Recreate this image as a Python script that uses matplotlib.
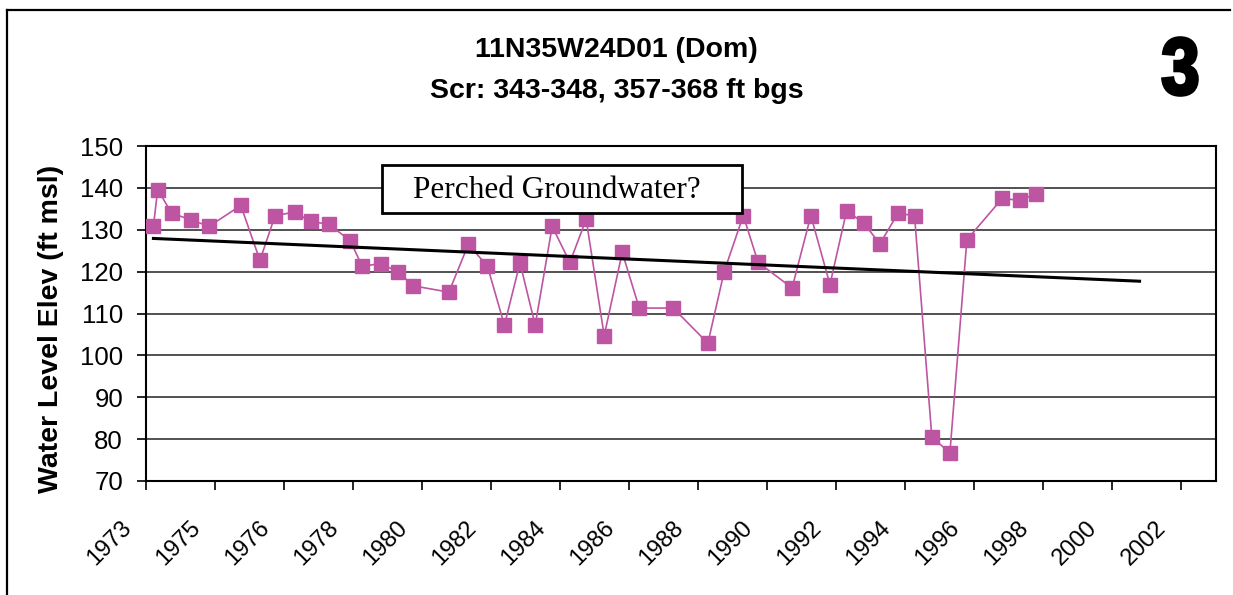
import numpy as np
import matplotlib
matplotlib.use("Agg")
import matplotlib.pyplot as plt
from matplotlib.lines import Line2D
from matplotlib.patches import Rectangle, PathPatch
from matplotlib.textpath import TextPath
from matplotlib.font_manager import FontProperties
from matplotlib.transforms import Affine2D, ScaledTranslation

# Measurement dates (decimal years) and water level elevations (ft msl)
years = [1973.28, 1973.40, 1973.80, 1974.34, 1974.85, 1975.75, 1976.29, 1976.72,
         1977.27, 1977.72, 1978.24, 1978.84, 1979.18, 1979.71, 1980.20, 1980.63,
         1981.63, 1982.18, 1982.72, 1983.20, 1983.64, 1984.07, 1984.55, 1985.05,
         1985.51, 1986.02, 1986.53, 1987.01, 1987.97, 1988.95, 1989.41, 1989.95,
         1990.37, 1991.33, 1991.86, 1992.40, 1992.87, 1993.36, 1993.81, 1994.32,
         1994.79, 1995.28, 1995.79, 1996.27, 1997.27, 1997.76, 1998.22]
levels = [130.8, 139.6, 133.9, 132.4, 130.8, 135.8, 122.7, 133.4,
          134.2, 132.0, 131.3, 127.4, 121.3, 121.9, 119.9, 116.6,
          115.1, 126.5, 121.3, 107.2, 122.1, 107.2, 130.8, 122.2,
          132.5, 104.7, 124.6, 111.3, 111.3, 102.9, 120.0, 133.4,
          122.2, 116.1, 133.4, 116.9, 134.5, 131.6, 126.6, 133.9,
          133.4, 80.5, 76.7, 127.6, 137.5, 137.0, 138.6]

tick_labels = ["1973", "1975", "1976", "1978", "1980", "1982", "1984", "1986",
               "1988", "1990", "1992", "1994", "1996", "1998", "2000", "2002"]
y_ticks = [70, 80, 90, 100, 110, 120, 130, 140, 150]

title = "11N35W24D01 (Dom)\nScr: 343-348, 357-368 ft bgs"
note = "Perched Groundwater?"
ylabel = "Water Level Elev (ft msl)"

series_color = "#BE55A2"
sans = "Liberation Sans"

fig = plt.figure(figsize=(12.33, 5.95), dpi=100)
ax = fig.add_axes([0.1184, 0.1916, 0.8678, 0.563])

# date axis: ticks every ~1.95 yr starting just after Jan 1973
x_start, x_step = 1973.07, 1.95
ticks = [x_start + i * x_step for i in range(len(tick_labels))]
ax.set_xlim(x_start, 2003.31)
ax.set_ylim(70, 150)

ax.plot(years, levels, color=series_color, lw=1.2, marker="s", ms=9.5,
        mec=series_color, mfc=series_color, zorder=3)

# linear trend, extended forward
coef = np.polyfit(years, levels, 1)
trend_x = np.array([years[0], years[-1] + 2.93])
ax.plot(trend_x, np.polyval(coef, trend_x), color="black", lw=2.2, zorder=3)

ax.set_yticks(y_ticks)
ax.set_xticks(ticks)
ax.set_xticklabels(tick_labels, rotation=45, ha="right")
ax.yaxis.grid(True, color="#333333", lw=1.2)
ax.set_axisbelow(True)
for s in ax.spines.values():
    s.set_color("black")
    s.set_linewidth(1.5)

ax.tick_params(axis="y", length=6.5, width=1.2, pad=10, labelsize=18.5)
ax.tick_params(axis="x", length=6.5, width=1.2, pad=19, labelsize=17)
for lbl in ax.get_xticklabels() + ax.get_yticklabels():
    lbl.set_fontfamily(sans)
shift = ScaledTranslation(-0.10, 0, fig.dpi_scale_trans)
for lbl in ax.get_xticklabels():
    lbl.set_transform(lbl.get_transform() + shift)

ax.set_ylabel(ylabel, fontsize=20.5, fontweight="bold", family=sans)
ax.yaxis.set_label_coords(-0.0765, 0.455)

# text box
ax.add_patch(Rectangle((0.2203, 0.800), 0.3364, 0.143, transform=ax.transAxes,
                       fc="white", ec="black", lw=2, zorder=4))
ax.text(0.3836, 0.866, note, transform=ax.transAxes, ha="center", va="center",
        fontsize=22.5, family="Liberation Serif", zorder=5)

fig.text(0.5, 0.881, title, ha="center", va="center", fontsize=20.5,
         fontweight="bold", family=sans, linespacing=1.75)

# big page number in the corner, drawn as a squeezed glyph outline
glyph = TextPath((0, 0), "3", size=100, prop=FontProperties(family=sans, weight="bold"))
ext = glyph.get_extents()
px_to_fig = Affine2D().scale(1 / fig.dpi) + fig.dpi_scale_trans
glyph_tf = (Affine2D().translate(-ext.x0, -ext.y0)
            .scale(34 / ext.width, 57 / ext.height)
            .translate(1163, 500)) + px_to_fig
fig.add_artist(PathPatch(glyph, transform=glyph_tf, fc="black", ec="black", lw=2.6))

# chart frame
fig.add_artist(Line2D([0.0057, 0.0057], [0, 0.983], transform=fig.transFigure,
                      color="black", lw=1.6))
fig.add_artist(Line2D([0.0057, 0.9976], [0.983, 0.983], transform=fig.transFigure,
                      color="black", lw=1.6))

fig.savefig("out.png", dpi=100)
